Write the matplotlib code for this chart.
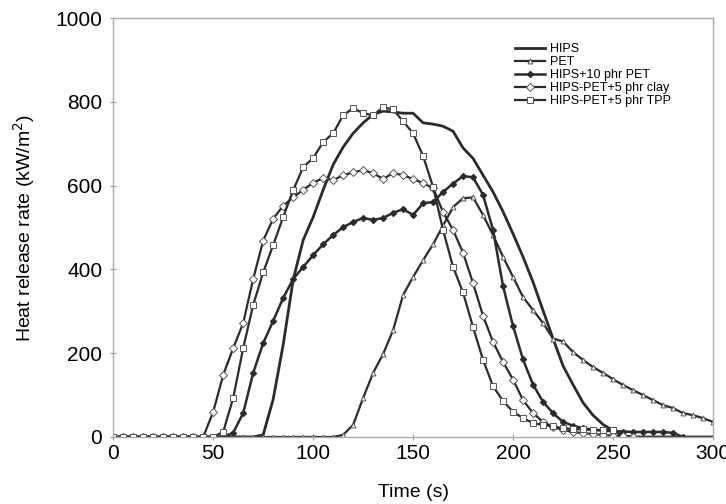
import matplotlib
matplotlib.use('Agg')
import matplotlib.pyplot as plt

plt.rcParams['font.family'] = ['Liberation Sans', 'DejaVu Sans']

# time axis, one sample every 5 s
time_hips = list(range(0, 305, 5))
hips = [0]*15 + [5, 90, 220, 375, 470, 525, 590, 650, 692, 725, 750, 770, 778, 776, 773,
                 773, 750, 747, 742, 730, 690, 665, 625, 585, 538, 485, 430, 370, 302, 235,
                 170, 125, 82, 52, 30, 15, 3] + [0]*9

time_pet = list(range(0, 305, 5))
pet = [0]*23 + [5, 29, 93, 153, 198, 255, 339, 382, 422, 460, 505, 549, 570, 572, 530,
                482, 430, 382, 334, 303, 272, 235, 228, 203, 184, 167, 153, 138, 124, 112,
                100, 88, 76, 69, 57, 52, 45, 36]

time_pet10 = list(range(0, 290, 5))
pet10 = [0]*12 + [10, 57, 153, 224, 277, 332, 377, 406, 434, 460, 482, 501, 513, 523, 518,
                  523, 535, 544, 530, 558, 561, 585, 605, 623, 620, 578, 494, 360, 265, 185,
                  125, 84, 57, 36, 27, 21, 17, 15, 14, 13, 12, 12, 12, 12, 10, 0]

time_clay = list(range(0, 265, 5))
clay = [0]*10 + [60, 148, 212, 272, 377, 469, 521, 552, 572, 590, 607, 618, 613, 625, 632,
                 637, 630, 616, 630, 625, 616, 606, 594, 537, 494, 440, 367, 289, 227, 179,
                 137, 88, 57, 36, 24, 17, 12, 9, 7, 5, 3, 2, 0]

time_tpp = list(range(0, 255, 5))
tpp = [0]*11 + [12, 93, 212, 315, 393, 458, 525, 589, 644, 666, 704, 725, 768, 785, 773,
                768, 787, 782, 754, 725, 671, 597, 494, 406, 345, 262, 184, 121, 86, 60,
                45, 33, 29, 25, 21, 19, 18, 17, 17, 16]

fig = plt.figure(figsize=(7.26, 5.04), dpi=100)
ax = fig.add_axes([0.156, 0.133, 0.826, 0.831])

lc = '#2b2b2b'
mc = '#555555'
ax.plot(time_hips, hips, color=lc, lw=2.0, label='HIPS')
ax.plot(time_pet, pet, color=lc, lw=1.6, marker='^', ms=3.5, mfc='white', mec=mc,
        mew=0.7, label='PET')
ax.plot(time_pet10, pet10, color=lc, lw=1.8, marker='D', ms=3, mfc=lc, mec=lc,
        label='HIPS+10 phr PET')
ax.plot(time_clay, clay, color=lc, lw=1.6, marker='D', ms=4, mfc='white', mec=mc,
        mew=0.7, label='HIPS-PET+5 phr clay')
ax.plot(time_tpp, tpp, color=lc, lw=1.6, marker='s', ms=4, mfc='white', mec=mc,
        mew=0.7, label='HIPS-PET+5 phr TPP')

ax.set_xlim(0, 300)
ax.set_ylim(0, 1000)
ax.set_xticks(range(0, 301, 50))
ax.set_yticks(range(0, 1001, 200))
ax.tick_params(labelsize=15, color='#999999', length=4, direction='inout')
ax.tick_params(axis='x', pad=3)
ax.tick_params(axis='y', pad=6)
for s in ax.spines.values():
    s.set_color('#aaaaaa')
    s.set_linewidth(1.0)

ax.set_xlabel('Time (s)', fontsize=14, labelpad=15)
ax.set_ylabel('Heat release rate (kW/m$^2$)', fontsize=14, labelpad=13)

ax.legend(loc='upper left', bbox_to_anchor=(0.66, 0.955), frameon=False, fontsize=9,
          handlelength=2.4, handletextpad=0.4, labelspacing=0.08, borderpad=0)

plt.savefig('out.png', dpi=100)
